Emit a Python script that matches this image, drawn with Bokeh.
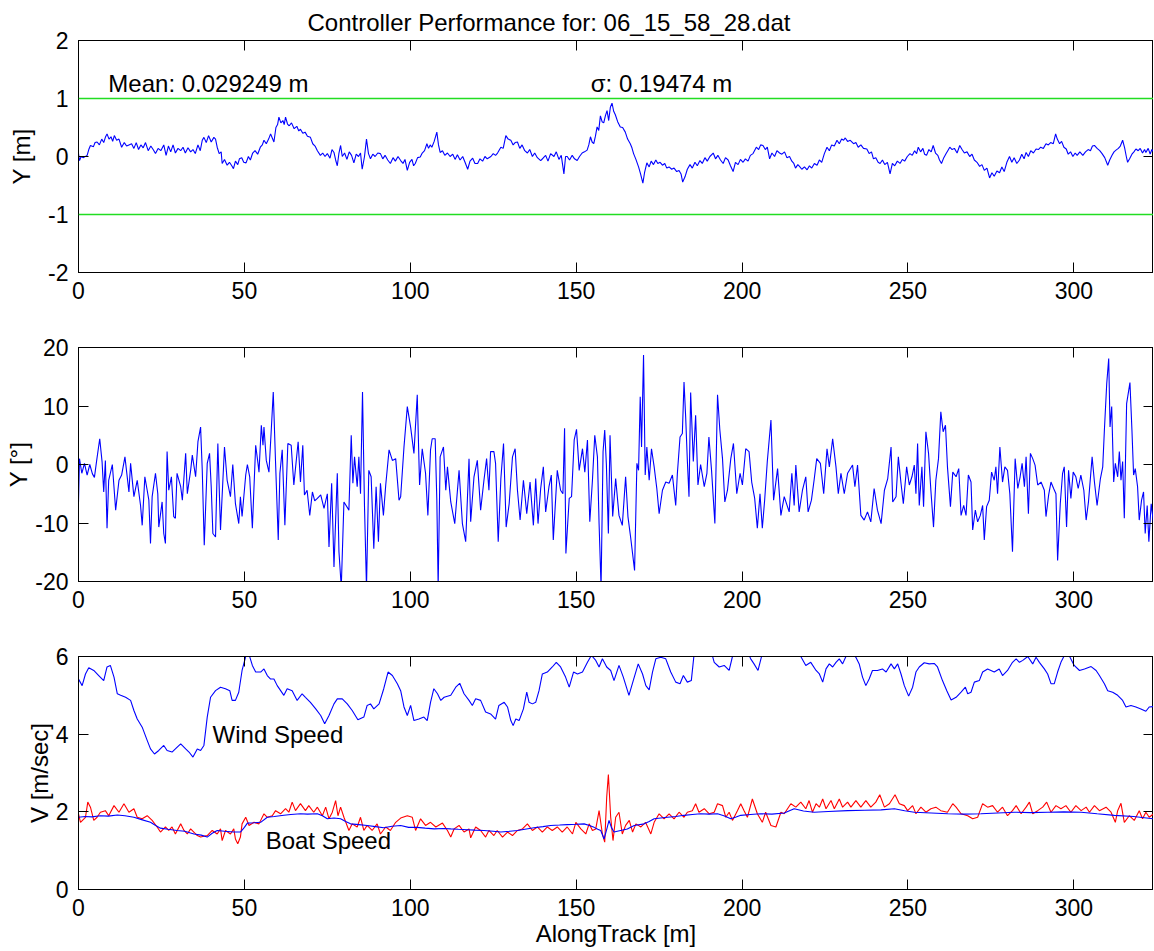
from bokeh.plotting import figure
from bokeh.models import Range1d, LinearAxis, Span, Label, FixedTicker, Title
from bokeh.layouts import column
from bokeh.embed import file_html
from bokeh.resources import INLINE

FONT = "Liberation Sans"

# ---------------- data ----------------
x_ticks = [0, 50, 100, 150, 200, 250, 300]
y1_ticks = [-2, -1, 0, 1, 2]
y2_ticks = [-20, -10, 0, 10, 20]
y3_ticks = [0, 2, 4, 6]
limits = [-1, 1]

title_text = "Controller Performance for: 06_15_58_28.dat"
mean_text = "Mean: 0.029249 m"
sigma_text = "\u03c3: 0.19474 m"

# cross-track error Y [m]
y1_pts = [
    (0, 0.05), (0.3, -0.07), (0.8, 0.0), (1.5, -0.02), (2.6, 0.02), (3.1, 0.12), (3.6, 0.19), (4.5, 0.17),
    (5.0, 0.24), (5.6, 0.25), (6.3, 0.2), (7.0, 0.3), (7.6, 0.24), (8.1, 0.33), (8.6, 0.39), (9.2, 0.3),
    (9.8, 0.34), (10.3, 0.26), (10.8, 0.36), (11.5, 0.28), (12.2, 0.3), (13.0, 0.16), (13.8, 0.24), (14.5, 0.18),
    (15.2, 0.2), (16.0, 0.22), (16.7, 0.14), (17.4, 0.24), (18.1, 0.12), (18.8, 0.2), (19.5, 0.15), (20.2, 0.24),
    (21.0, 0.1), (21.8, 0.18), (22.5, 0.12), (23.2, 0.05), (24.0, 0.14), (24.8, 0.1), (25.7, 0.2), (26.4, 0.02),
    (27.1, 0.18), (27.8, 0.08), (28.5, 0.2), (29.2, 0.06), (30.0, 0.14), (30.8, 0.1), (31.5, 0.16), (32.2, 0.06),
    (33.0, 0.15), (33.8, 0.08), (34.5, 0.12), (35.2, 0.05), (36.0, 0.2), (36.7, 0.1), (37.3, 0.28), (37.8, 0.33),
    (38.5, 0.24), (39.2, 0.36), (40.0, 0.25), (40.8, 0.33), (41.3, 0.3), (41.8, 0.16), (42.4, 0.05), (43.0, 0.08),
    (43.3, -0.12), (44.0, -0.05), (44.8, -0.15), (45.5, -0.1), (46.2, -0.16), (46.7, -0.21), (47.3, -0.08), (48.0, -0.14),
    (48.5, -0.04), (49.2, -0.02), (49.8, -0.1), (50.5, -0.11), (51.2, 0.0), (51.8, -0.06), (52.5, 0.06), (53.2, 0.1),
    (54.0, 0.04), (54.8, 0.16), (55.4, 0.2), (55.9, 0.28), (56.6, 0.22), (57.3, 0.3), (57.9, 0.39), (58.4, 0.32),
    (58.9, 0.25), (59.5, 0.5), (60.0, 0.55), (60.4, 0.68), (61.0, 0.58), (61.6, 0.62), (62.0, 0.55), (62.4, 0.68),
    (63.0, 0.56), (63.5, 0.53), (64.2, 0.58), (65.0, 0.48), (65.8, 0.52), (66.4, 0.44), (66.9, 0.47), (67.6, 0.4),
    (68.3, 0.42), (69.0, 0.35), (69.9, 0.33), (70.6, 0.22), (71.3, 0.18), (72.0, 0.1), (72.9, 0.02), (73.6, 0.06),
    (74.3, 0.0), (75.0, 0.05), (75.8, -0.03), (76.4, 0.12), (77.0, 0.07), (77.5, -0.06), (78.0, -0.16), (78.5, 0.06),
    (79.0, 0.19), (79.5, 0.0), (80.2, 0.06), (80.9, -0.05), (81.6, 0.08), (82.3, 0.02), (83.0, -0.11), (83.7, 0.04),
    (84.4, 0.0), (85.0, 0.06), (85.5, -0.22), (86.2, 0.0), (86.8, 0.3), (87.4, 0.05), (88.0, -0.04), (88.7, 0.04),
    (89.4, 0.0), (90.2, 0.06), (91.0, 0.05), (91.7, -0.04), (92.4, 0.02), (93.2, -0.06), (94.0, -0.12), (94.8, -0.02),
    (95.5, -0.08), (96.3, 0.0), (97.1, -0.07), (97.8, -0.12), (98.4, -0.05), (99.1, -0.24), (99.8, -0.1), (100.5, -0.05),
    (101.0, -0.16), (101.5, -0.12), (102.2, -0.02), (103.0, -0.01), (103.6, 0.06), (104.3, 0.1), (105.0, 0.22), (105.5, 0.14),
    (106.0, 0.2), (106.5, 0.16), (107.2, 0.26), (108.0, 0.42), (108.5, 0.2), (109.0, 0.07), (109.7, 0.1), (110.4, 0.02),
    (111.2, 0.06), (112.0, 0.0), (112.8, 0.04), (113.5, -0.05), (114.2, 0.03), (115.0, -0.06), (115.8, 0.0), (116.5, -0.1),
    (117.3, -0.22), (118.0, -0.08), (118.8, -0.03), (119.5, -0.12), (120.3, -0.12), (121.0, -0.04), (121.8, -0.08), (122.5, 0.0),
    (123.2, -0.04), (124.3, 0.0), (125.0, 0.05), (125.7, 0.02), (126.3, 0.06), (127.3, 0.16), (128.0, 0.14), (128.8, 0.36),
    (129.5, 0.3), (130.3, 0.28), (131.0, 0.2), (131.6, 0.24), (132.3, 0.25), (133.0, 0.14), (133.7, 0.2), (134.5, 0.1),
    (135.3, 0.06), (136.0, 0.12), (136.8, 0.0), (137.5, 0.06), (138.3, -0.02), (139.3, -0.07), (140.0, -0.03), (140.8, 0.02),
    (141.5, -0.08), (142.3, 0.05), (143.3, 0.0), (144.0, 0.08), (144.8, -0.05), (145.5, 0.02), (146.3, -0.3), (146.8, 0.0),
    (147.3, 0.0), (148.0, -0.06), (148.8, 0.02), (149.5, -0.04), (150.3, -0.07), (151.0, 0.0), (151.8, 0.06), (152.5, 0.08),
    (153.3, 0.11), (153.8, 0.2), (154.3, 0.34), (154.8, 0.25), (155.3, 0.22), (155.8, 0.35), (156.3, 0.51), (156.8, 0.45),
    (157.3, 0.7), (157.8, 0.6), (158.3, 0.58), (158.8, 0.7), (159.3, 0.79), (159.8, 0.62), (160.3, 0.85), (160.8, 0.92),
    (161.3, 0.78), (161.8, 0.72), (162.5, 0.6), (163.3, 0.51), (164.0, 0.5), (164.8, 0.42), (165.5, 0.3), (166.3, 0.22),
    (166.8, 0.15), (167.3, 0.05), (168.0, -0.05), (168.8, -0.18), (169.4, -0.3), (170.1, -0.46), (170.6, -0.28), (171.3, -0.11),
    (172.0, -0.18), (172.6, -0.08), (173.3, -0.14), (174.0, -0.06), (174.6, -0.12), (175.3, -0.1), (176.0, -0.15), (176.7, -0.12),
    (177.3, -0.2), (178.0, -0.18), (178.8, -0.22), (179.5, -0.2), (180.3, -0.26), (181.0, -0.24), (181.6, -0.3), (182.1, -0.44),
    (182.8, -0.35), (183.5, -0.22), (184.3, -0.14), (185.0, -0.2), (185.8, -0.1), (186.5, -0.16), (187.3, -0.07), (188.0, -0.12),
    (188.8, -0.02), (189.5, -0.08), (190.3, 0.0), (191.3, 0.06), (192.0, -0.04), (192.7, 0.02), (193.5, -0.06), (194.3, -0.12),
    (195.0, -0.02), (195.8, -0.06), (196.5, -0.16), (197.3, -0.26), (198.0, -0.1), (198.8, -0.14), (199.5, -0.05), (200.3, -0.1),
    (201.0, -0.04), (201.8, -0.08), (202.5, 0.02), (203.3, 0.05), (204.3, 0.16), (205.0, 0.12), (205.6, 0.2), (206.3, 0.19),
    (207.0, 0.12), (207.6, 0.16), (208.3, -0.04), (209.0, 0.06), (209.8, 0.0), (210.5, 0.1), (211.3, 0.06), (212.0, 0.04),
    (212.8, 0.08), (213.5, -0.02), (214.3, 0.0), (215.0, -0.08), (215.6, -0.12), (216.1, -0.2), (216.8, -0.14), (217.3, -0.17),
    (218.0, -0.22), (218.8, -0.18), (219.6, -0.23), (220.3, -0.16), (221.0, -0.2), (221.8, -0.12), (222.6, -0.15), (223.3, -0.06),
    (224.0, -0.1), (224.8, 0.05), (225.6, 0.16), (226.3, 0.1), (227.0, 0.2), (227.8, 0.18), (228.6, 0.28), (229.3, 0.22),
    (230.0, 0.3), (230.6, 0.28), (231.1, 0.32), (231.8, 0.26), (232.6, 0.28), (233.6, 0.22), (234.3, 0.24), (235.0, 0.16),
    (235.8, 0.2), (236.6, 0.14), (237.6, 0.13), (238.3, 0.05), (239.0, 0.08), (239.6, -0.04), (240.3, -0.02), (241.0, -0.1),
    (241.6, -0.12), (242.3, -0.06), (243.0, -0.14), (243.8, -0.1), (244.6, -0.3), (245.3, -0.12), (246.0, -0.16), (246.8, -0.08),
    (247.6, -0.12), (248.3, -0.05), (249.0, -0.08), (249.8, 0.0), (250.6, 0.05), (251.3, 0.02), (252.0, 0.1), (252.6, 0.05),
    (253.1, 0.16), (253.8, 0.08), (254.5, 0.14), (255.0, 0.04), (255.6, 0.02), (256.3, 0.12), (257.0, 0.08), (257.6, 0.19),
    (258.3, 0.06), (259.0, 0.02), (259.5, -0.06), (260.1, -0.12), (260.8, -0.02), (261.5, 0.05), (262.0, 0.1), (262.6, 0.16),
    (263.3, 0.12), (264.0, 0.14), (264.8, 0.06), (265.6, 0.19), (266.3, 0.12), (267.0, 0.06), (267.8, 0.08), (268.6, 0.0),
    (269.3, 0.04), (270.0, -0.06), (270.8, -0.1), (271.6, -0.17), (272.3, -0.14), (273.0, -0.24), (273.8, -0.2), (274.6, -0.37),
    (275.3, -0.28), (276.0, -0.34), (276.8, -0.25), (277.6, -0.28), (278.3, -0.18), (279.0, -0.26), (279.8, -0.1), (280.6, 0.0),
    (281.3, -0.1), (282.0, -0.02), (282.8, -0.12), (283.6, -0.06), (284.3, 0.04), (285.0, -0.04), (285.6, 0.07), (286.3, 0.0),
    (287.0, 0.1), (287.8, 0.06), (288.6, 0.13), (289.3, 0.12), (290.0, 0.16), (290.8, 0.14), (291.6, 0.22), (292.3, 0.2),
    (293.0, 0.24), (293.8, 0.22), (294.5, 0.39), (295.0, 0.3), (295.7, 0.22), (296.3, 0.26), (297.0, 0.16), (297.7, 0.13),
    (298.3, 0.04), (299.0, 0.08), (299.7, 0.0), (300.4, 0.06), (301.0, 0.02), (301.8, 0.08), (302.7, 0.02), (303.5, 0.08),
    (304.3, 0.12), (305.0, 0.1), (305.6, 0.18), (306.2, 0.19), (307.0, 0.14), (307.8, 0.1), (308.5, 0.05), (309.3, -0.02),
    (310.2, -0.15), (310.8, -0.06), (311.5, 0.02), (312.1, 0.08), (312.7, 0.11), (313.4, 0.14), (314.0, 0.18), (314.7, 0.28),
    (315.3, 0.15), (315.8, 0.0), (316.2, -0.1), (316.8, -0.04), (317.5, 0.04), (318.1, 0.08), (318.7, 0.13), (319.4, 0.1),
    (320.0, 0.14), (320.7, 0.06), (321.3, 0.12), (321.7, 0.07), (322.4, 0.14), (323.0, 0.04), (323.5, 0.12), (324.0, 0.08),
]
track_x = [p[0] for p in y1_pts]
cross_track = [p[1] for p in y1_pts]

# heading error Y [deg]
y2_pts = [
    (0.0, -6.5), (0.3, 1.0), (1.0, -1.5), (1.8, 0.2), (2.6, -1.8), (3.4, 0.0), (4.2, -1.6), (4.8, -2.2), (5.5, 0.8),
    (6.4, 4.4), (7.1, 0.5), (7.6, -4.7), (8.1, 0.7), (8.6, -10.9), (9.1, -2.7), (10.2, 0.0), (11.2, -7.8),
    (12.2, -2.7), (13.0, -1.8), (14.0, 1.3), (15.2, -4.7), (15.7, 0.2), (16.7, -5.5), (17.7, -2.7), (18.7, -7.0),
    (19.2, -10.4), (20.0, -2.1), (20.7, -4.4), (21.2, -6.1), (21.7, -13.5), (22.2, -5.5), (23.2, -1.5), (23.9, -5.0),
    (24.2, -10.7), (25.2, -6.4), (25.7, -11.8), (26.2, -13.5), (26.7, 2.2), (27.2, -4.4), (28.0, -2.1), (28.7, -8.9),
    (29.2, -9.2), (29.7, -1.5), (30.8, -3.8), (31.3, -6.1), (32.3, 1.9), (32.8, -5.0), (33.8, -1.0), (34.3, 1.6),
    (35.3, -2.1), (36.0, 3.9), (36.8, 6.4), (37.3, -1.0), (37.9, -13.8), (38.8, 0.2), (39.5, 1.9), (40.0, -3.8),
    (40.5, -11.8), (41.3, -12.4), (42.0, 3.6), (42.8, -11.2), (44.0, 3.0), (44.8, -2.7), (45.8, -5.5), (46.5, 0.0),
    (47.3, -6.7), (48.3, -10.1), (48.8, -5.5), (49.3, -8.9), (50.4, -1.8), (50.9, 0.0), (51.6, -2.1), (52.4, -10.9),
    (53.4, 3.3), (54.1, 0.2), (54.4, -1.3), (55.1, 6.7), (55.6, 3.3), (55.9, 6.4), (56.6, 0.7), (57.4, -1.3),
    (58.1, 5.9), (58.7, 12.4), (59.4, 0.2), (60.2, -12.9), (60.7, -1.5), (61.4, 2.5), (62.2, -10.4), (63.1, 3.6),
    (64.1, 3.3), (64.9, -3.5), (66.2, 3.9), (66.9, -3.0), (67.6, 3.3), (68.1, -5.2), (68.9, -4.4), (69.7, -8.7),
    (70.5, -4.7), (71.2, -6.2), (72.0, -5.8), (73.0, -5.2), (74.0, -7.5), (75.0, -5.0), (75.5, -14.1), (76.3, -3.2),
    (77.0, -17.5), (78.0, -1.5), (78.5, -14.9), (79.2, -21.0), (80.0, -6.4), (81.5, -7.8), (82.2, 5.0), (82.7, -3.2),
    (83.2, 1.3), (84.0, -3.8), (84.5, 1.3), (85.0, -5.0), (85.6, 12.4), (86.2, -7.2), (86.8, -21.0), (87.5, -1.0),
    (88.2, -2.1), (89.0, -14.4), (89.7, -3.8), (90.4, -13.2), (91.0, -3.2), (91.9, -8.7), (92.6, -3.5), (93.6, 2.5),
    (94.6, 0.7), (95.6, 1.0), (96.6, -6.1), (97.1, -5.5), (98.1, 3.0), (99.1, 9.9), (100.1, 6.4), (101.1, 1.9),
    (102.1, 11.9), (102.8, -3.5), (103.6, 2.7), (104.6, -1.5), (105.3, -8.7), (106.1, 2.5), (106.6, 4.4), (107.5, 4.4),
    (108.0, -6.1), (108.4, -21.0), (109.0, 1.3), (110.0, 3.0), (110.7, -4.4), (111.2, -0.4), (112.2, -6.4), (113.4, -10.1),
    (114.7, -1.0), (115.7, -10.1), (116.7, -13.2), (117.7, 1.0), (118.2, -9.8), (119.2, -2.1), (120.2, 0.7), (121.2, -7.8),
    (122.2, -2.7), (123.0, 1.0), (123.7, -4.4), (124.2, 2.2), (125.2, 2.2), (125.7, 0.2), (126.5, -13.2), (127.3, -2.4),
    (128.1, 3.6), (128.9, -10.7), (129.8, -6.7), (130.8, 1.3), (131.6, 2.7), (132.3, -4.4), (133.1, -9.5), (134.1, -2.7),
    (135.1, -8.4), (136.1, -3.0), (137.1, -10.4), (137.8, -2.4), (138.5, -10.1), (139.3, -4.1), (140.1, -0.4), (140.8, -8.1),
    (141.8, -3.8), (142.5, -1.8), (143.1, -12.9), (144.3, -1.0), (145.3, -4.4), (146.0, -5.0), (146.5, 6.2), (146.9, -15.2),
    (147.9, -5.8), (148.6, -5.5), (149.4, 4.2), (150.1, 6.0), (150.9, -1.0), (151.9, 2.7), (152.6, -1.3), (153.4, 4.2),
    (154.1, -9.8), (154.9, -2.7), (155.6, 5.0), (156.4, 1.3), (156.9, -10.1), (157.5, -21.0), (158.1, 2.2), (158.6, 5.9),
    (159.1, 0.0), (159.7, -11.8), (160.2, 5.0), (161.0, -8.9), (161.9, -2.4), (162.9, -8.7), (163.9, -10.4), (164.9, -2.1),
    (165.6, -8.9), (166.4, -12.4), (167.6, -18.1), (168.3, 0.2), (168.8, -1.0), (169.3, 11.6), (169.7, 3.0), (170.3, 18.7),
    (170.8, -1.8), (171.3, 3.0), (172.0, -2.7), (172.7, 2.7), (173.5, -0.4), (174.3, -4.1), (175.0, -8.4), (176.0, -4.4),
    (177.0, -3.0), (178.0, -3.2), (179.0, -1.8), (180.0, -7.0), (180.5, -1.5), (181.3, 4.7), (182.0, 5.3), (182.5, 14.1),
    (183.0, 8.1), (183.5, 0.7), (184.0, -5.5), (184.5, 12.3), (185.3, 0.5), (186.0, 8.4), (186.7, -3.5), (187.5, 0.0),
    (188.6, -3.8), (189.4, -1.5), (190.0, 4.7), (190.8, -1.0), (191.8, -10.1), (192.6, 11.9), (193.3, 5.9), (194.1, 1.0),
    (194.8, -6.4), (195.6, -4.4), (196.6, 1.0), (197.4, 3.6), (198.4, -5.0), (199.4, -1.5), (200.1, -3.5), (201.1, 2.7),
    (202.1, 2.2), (202.9, -3.0), (203.8, -5.8), (204.6, -10.9), (205.4, -5.0), (206.1, -10.9), (206.8, -6.1), (207.6, 0.5),
    (208.7, 7.6), (209.5, -6.1), (210.7, -0.7), (211.7, -8.7), (212.7, -5.5), (214.2, -8.1), (215.0, -1.5), (215.7, -7.0),
    (216.2, -0.1), (217.2, -8.1), (218.2, -4.4), (219.2, -2.1), (219.9, -8.1), (220.9, -6.1), (221.7, -2.7), (222.5, 1.0),
    (223.6, 0.2), (224.6, -5.0), (225.6, 2.7), (226.3, -0.4), (227.3, 4.4), (228.3, -0.4), (229.0, -5.0), (229.8, -1.5),
    (230.8, -5.0), (231.8, -1.5), (233.3, -0.1), (234.0, -3.8), (234.8, -0.1), (235.8, -8.7), (236.8, -9.5), (237.8, -8.1),
    (238.8, -9.8), (239.8, -4.1), (240.8, -7.8), (241.9, -10.1), (242.9, -4.4), (243.9, -2.4), (244.9, 3.0), (245.4, -6.4),
    (246.4, -5.5), (247.1, 1.3), (247.9, -3.2), (248.6, -6.7), (249.6, -0.4), (250.4, -3.5), (251.2, -2.1), (251.9, -0.1),
    (252.4, -5.0), (252.9, 3.6), (253.4, -7.0), (254.2, -0.4), (254.7, -7.2), (255.4, 5.6), (256.2, 1.9), (256.9, -4.4),
    (257.7, -10.7), (258.4, -2.7), (259.2, 1.0), (259.9, 9.0), (260.6, 5.6), (261.3, 6.7), (261.9, -0.4), (262.8, -7.2),
    (263.5, -1.3), (264.5, -2.1), (265.3, -0.7), (266.0, -8.7), (266.8, -7.0), (267.5, -8.7), (268.2, -1.8), (269.0, -3.0),
    (269.5, -11.2), (270.3, -7.8), (271.0, -9.8), (271.8, -8.7), (272.5, -7.0), (273.0, -12.9), (273.7, -7.2), (274.5, -6.1),
    (275.2, -1.3), (276.0, -2.7), (276.5, -0.4), (277.0, -5.0), (277.7, 3.0), (278.5, -3.0), (279.2, -0.4), (280.0, -1.0),
    (280.7, -5.0), (281.5, -14.9), (282.3, 1.0), (283.1, -4.1), (283.8, -2.1), (284.4, 0.2), (285.1, -3.8), (285.6, 1.3),
    (286.3, -8.4), (286.9, 1.9), (287.6, 1.0), (288.3, -0.1), (289.1, -3.5), (290.1, -3.0), (291.1, -4.4), (291.6, -8.9),
    (292.4, -5.2), (293.1, -3.0), (293.9, -4.1), (294.6, -5.0), (295.1, -16.4), (295.9, -6.7), (296.6, -1.5), (297.1, -0.4),
    (297.8, -10.7), (298.4, -1.0), (299.1, -5.8), (299.8, -1.3), (300.6, -2.1), (301.3, -4.1), (302.1, -1.8), (303.0, -4.4),
    (303.7, -9.5), (304.4, -6.4), (305.5, 1.3), (306.2, -3.0), (307.0, -7.0), (308.0, -2.4), (308.7, -0.4), (309.2, 5.9),
    (309.9, 13.8), (310.5, 18.1), (310.9, 6.4), (311.4, 9.9), (312.0, -3.0), (312.5, 0.2), (313.2, -2.1), (313.7, 2.2),
    (314.2, -2.7), (314.7, 0.5), (315.2, -9.2), (315.9, 10.4), (316.9, 14.0), (317.5, 5.9), (318.0, -1.8), (318.5, -0.7),
    (319.2, -3.8), (319.7, -9.5), (320.4, -6.1), (321.0, -4.7), (321.5, -11.8), (322.1, -7.0), (322.6, -13.2), (323.3, -6.7),
    (324.0, -10.0),
]
heading_x = [p[0] for p in y2_pts]
heading = [p[1] for p in y2_pts]

# wind speed [m/s]
wind_pts = [
    (0, 5.42), (1.1, 5.25), (2.1, 5.55), (3.1, 5.71), (4.6, 5.64), (6.1, 5.51), (7.6, 5.38), (8.6, 5.73), (9.6, 5.77),
    (10.7, 5.47), (11.7, 5.04), (12.7, 5.0), (14.2, 4.95), (15.7, 4.87), (16.7, 4.61), (17.7, 4.39), (19.2, 4.18),
    (20.7, 3.84), (21.7, 3.62), (22.9, 3.49), (24.2, 3.58), (25.7, 3.71), (26.7, 3.58), (28.2, 3.54), (29.2, 3.62),
    (30.8, 3.75), (32.3, 3.62), (33.3, 3.54), (34.5, 3.41), (35.8, 3.62), (36.8, 3.58), (37.8, 3.71), (38.8, 4.44),
    (39.8, 4.95), (41.3, 5.12), (42.8, 5.21), (44.3, 5.17), (45.6, 5.12), (46.3, 4.87), (47.3, 4.87), (48.3, 5.08),
    (49.3, 5.64), (50.4, 6.0), (51.4, 6.05), (52.4, 5.77), (53.4, 5.6), (54.9, 5.6), (55.9, 5.68), (56.9, 5.51),
    (57.9, 5.42), (58.9, 5.42), (59.9, 5.25), (61.9, 5.0), (62.9, 5.17), (64.4, 5.12), (65.9, 4.87), (67.4, 5.04),
    (68.4, 4.95), (69.9, 4.82), (71.5, 4.65), (73.0, 4.48), (74.2, 4.27), (75.5, 4.48), (77.0, 4.78), (78.0, 4.91),
    (79.5, 4.91), (81.0, 4.78), (82.5, 4.61), (84.2, 4.37), (86.0, 4.44), (87.0, 4.74), (88.0, 4.78), (89.0, 4.65),
    (90.6, 4.78), (92.0, 5.17), (93.3, 5.6), (94.6, 5.51), (96.1, 5.3), (97.1, 5.12), (98.1, 4.7), (99.1, 4.48),
    (100.1, 4.74), (101.1, 4.35), (102.6, 4.39), (104.1, 4.44), (105.1, 4.35), (106.1, 4.82), (107.1, 5.17), (108.2, 5.04),
    (109.2, 4.87), (110.2, 4.95), (112.2, 5.0), (113.7, 5.21), (114.9, 5.31), (116.2, 5.04), (117.7, 4.87), (118.7, 4.74),
    (119.7, 4.91), (121.2, 4.87), (122.7, 4.57), (124.2, 4.52), (125.7, 4.39), (126.7, 4.74), (128.3, 4.82), (129.3, 4.7),
    (130.3, 4.35), (131.0, 4.22), (131.8, 4.39), (132.8, 4.35), (134.1, 4.65), (135.1, 5.08), (135.8, 4.82), (136.8, 4.78),
    (137.8, 4.82), (138.8, 5.12), (139.8, 5.55), (141.3, 5.6), (142.8, 5.73), (144.0, 5.85), (145.3, 5.73), (146.8, 5.47),
    (147.9, 5.21), (149.2, 5.6), (150.4, 5.55), (151.9, 5.6), (153.4, 5.85), (154.6, 6.03), (155.9, 5.9), (156.9, 5.73),
    (157.9, 5.94), (159.2, 5.73), (160.4, 5.64), (161.4, 5.38), (162.9, 5.77), (164.2, 5.47), (165.9, 5.0), (167.2, 5.38),
    (168.7, 5.81), (170.0, 5.55), (171.0, 5.25), (172.0, 5.14), (173.0, 5.6), (174.0, 5.94), (175.5, 5.98), (177.0, 5.94),
    (178.5, 5.6), (180.0, 5.34), (181.3, 5.3), (182.3, 5.51), (183.5, 5.34), (184.7, 5.38), (185.5, 6.03), (186.5, 6.3),
    (188.0, 6.4), (189.5, 6.3), (190.8, 6.1), (191.6, 5.85), (193.1, 5.73), (194.6, 5.77), (196.1, 5.64), (197.1, 6.0),
    (198.5, 6.25), (200.0, 6.3), (201.5, 6.15), (202.6, 5.94), (203.6, 5.81), (204.8, 5.64), (205.8, 5.98), (207.0, 6.3),
    (209.0, 6.45), (211.0, 6.4), (213.0, 6.5), (215.0, 6.3), (216.5, 6.15), (217.7, 6.0), (219.2, 5.77), (220.7, 5.85),
    (222.3, 5.64), (223.3, 5.55), (224.3, 5.34), (225.3, 5.68), (226.3, 5.81), (227.3, 5.73), (228.3, 5.85), (229.3, 5.94),
    (230.3, 5.81), (231.3, 6.0), (232.5, 6.1), (233.5, 6.05), (234.3, 5.98), (235.3, 5.81), (236.3, 5.47), (237.3, 5.25),
    (238.3, 5.42), (239.3, 5.64), (240.8, 5.64), (242.3, 5.68), (243.4, 5.6), (244.9, 5.81), (245.9, 5.68), (246.9, 5.81),
    (247.9, 5.55), (248.9, 5.25), (250.2, 4.98), (251.4, 5.21), (252.4, 5.6), (253.4, 5.73), (254.9, 5.84), (256.4, 5.81),
    (257.9, 5.82), (258.9, 5.73), (260.4, 5.38), (261.7, 5.12), (263.0, 4.88), (264.5, 4.95), (266.0, 5.08), (267.3, 5.21),
    (268.0, 5.04), (269.0, 5.08), (270.0, 5.34), (271.5, 5.38), (272.5, 5.6), (274.0, 5.68), (276.0, 5.6), (277.5, 5.68),
    (278.5, 5.51), (280.0, 5.64), (281.5, 5.85), (282.6, 5.94), (283.6, 5.85), (284.6, 5.9), (286.1, 6.0), (287.6, 5.81),
    (288.6, 5.98), (289.6, 5.85), (291.1, 5.68), (292.1, 5.55), (293.1, 5.3), (294.1, 5.3), (295.1, 5.6), (296.1, 5.85),
    (297.1, 6.02), (298.6, 6.02), (300.1, 5.77), (301.7, 5.64), (303.2, 5.68), (305.2, 5.74), (306.7, 5.64), (307.7, 5.51),
    (309.2, 5.3), (310.2, 5.12), (311.7, 5.08), (313.2, 5.0), (314.7, 4.87), (315.7, 4.7), (317.2, 4.74), (318.7, 4.7),
    (320.2, 4.65), (321.7, 4.59), (322.7, 4.7), (324.0, 4.71),
]
wind_x = [p[0] for p in wind_pts]
wind_speed = [p[1] for p in wind_pts]

# boat speed, smooth (blue) [m/s]
boat_pts = [
    (0, 1.86), (2, 1.88), (4, 1.87), (6.6, 1.9), (9, 1.89), (11.7, 1.92), (14, 1.9), (16.7, 1.86), (19, 1.8),
    (21.7, 1.73), (23, 1.66), (24.7, 1.58), (27, 1.55), (29.7, 1.52), (32, 1.5), (34.8, 1.43), (37, 1.4), (38.8, 1.35),
    (40.3, 1.45), (41.8, 1.52), (44, 1.5), (46.8, 1.48), (48.8, 1.48), (50.0, 1.6), (50.9, 1.71), (53, 1.72),
    (54.9, 1.73), (56.9, 1.86), (59, 1.88), (61.9, 1.91), (64, 1.93), (66.9, 1.95), (69, 1.94), (72, 1.95),
    (73.5, 1.9), (75, 1.82), (77, 1.84), (79, 1.82), (80.5, 1.75), (82, 1.69), (84.5, 1.67), (87, 1.65), (89.5, 1.62),
    (92, 1.59), (94.5, 1.63), (97.1, 1.65), (99.5, 1.6), (102, 1.6), (104.5, 1.58), (107.2, 1.56), (110, 1.57),
    (112.2, 1.56), (114.5, 1.55), (117.2, 1.54), (119.5, 1.53), (122.2, 1.52), (125, 1.5), (127.3, 1.48), (130, 1.5),
    (132.3, 1.52), (135, 1.56), (137.3, 1.59), (140, 1.62), (142.3, 1.65), (145, 1.66), (147.3, 1.67), (150, 1.68),
    (152.4, 1.69), (154, 1.65), (155.4, 1.6), (156.5, 1.55), (157.4, 1.52), (158.4, 1.3), (159.2, 1.55), (159.9, 1.78),
    (160.6, 1.6), (161.4, 1.48), (163.4, 1.52), (165.4, 1.56), (167.5, 1.65), (170.5, 1.69), (172, 1.75), (173.5, 1.82),
    (175.5, 1.84), (177.5, 1.86), (180, 1.88), (182.5, 1.91), (185, 1.93), (187.5, 1.95), (190, 1.94), (192.6, 1.95),
    (194.5, 1.9), (196.6, 1.82), (198, 1.86), (199.6, 1.91), (202.5, 1.93), (205.6, 1.95), (209, 1.94), (212.7, 1.97),
    (215.7, 2.08), (218.5, 2.02), (221.7, 1.99), (226, 2.01), (231.8, 2.03), (237, 2.04), (241.9, 2.05), (245.9, 2.08),
    (249, 2.03), (251.9, 1.99), (257, 1.97), (262, 1.95), (267, 1.94), (272, 1.95), (277, 1.97), (282.1, 1.99),
    (287, 1.98), (292.1, 1.99), (297, 2.0), (302.2, 1.99), (307, 1.95), (312.2, 1.91), (318, 1.88), (324, 1.82),
]
boat_x = [p[0] for p in boat_pts]
boat_speed = [p[1] for p in boat_pts]

# boat speed, raw (red) [m/s]
gps_pts = [
    (0, 1.95), (0.6, 1.73), (2.1, 1.86), (2.8, 2.25), (3.6, 2.12), (4.6, 1.78), (5.6, 1.86), (6.6, 1.99), (8.1, 2.03),
    (9.1, 1.9), (10.7, 2.16), (12.2, 1.99), (13.7, 2.21), (15.2, 1.99), (16.7, 2.08), (17.7, 1.86), (19.2, 1.82),
    (20.7, 1.9), (22.2, 1.78), (23.7, 1.61), (24.7, 1.48), (26.2, 1.61), (27.2, 1.52), (28.2, 1.61), (29.2, 1.43),
    (30.8, 1.69), (31.8, 1.52), (32.8, 1.43), (33.8, 1.56), (35.8, 1.39), (36.8, 1.35), (38.8, 1.39), (40.3, 1.52),
    (41.8, 1.43), (42.8, 1.56), (43.3, 1.26), (44.3, 1.52), (45.8, 1.43), (46.8, 1.56), (47.3, 1.3), (48.0, 1.18),
    (48.8, 1.35), (49.3, 1.69), (50.4, 1.86), (51.4, 1.65), (52.9, 1.73), (54.4, 1.69), (55.9, 1.95), (56.9, 1.86),
    (58.4, 1.9), (59.4, 2.03), (60.9, 1.95), (62.4, 2.08), (63.4, 1.99), (64.4, 2.25), (65.4, 2.03), (66.9, 2.21),
    (68.4, 2.03), (69.4, 2.16), (70.9, 1.99), (72.0, 2.12), (73.5, 1.9), (74.5, 2.12), (75.5, 1.82), (76.5, 1.99),
    (77.5, 2.29), (78.2, 1.9), (79.0, 2.12), (80.0, 1.86), (81.5, 1.52), (82.5, 1.69), (84.0, 1.61), (85.0, 1.86),
    (86.0, 1.52), (87.0, 1.65), (88.5, 1.52), (90.0, 1.69), (91.0, 1.43), (92.6, 1.61), (94.0, 1.52), (95.6, 1.73),
    (97.1, 1.84), (99.1, 1.9), (100.6, 1.86), (101.6, 1.52), (103.1, 1.82), (104.6, 1.65), (106.1, 1.73), (107.7, 1.61),
    (109.7, 1.71), (111.2, 1.52), (112.2, 1.35), (113.2, 1.56), (114.7, 1.65), (116.2, 1.48), (117.7, 1.56), (118.2, 1.33),
    (119.7, 1.61), (121.2, 1.52), (122.7, 1.35), (123.7, 1.52), (125.2, 1.39), (126.2, 1.52), (127.8, 1.35), (129.3, 1.48),
    (130.8, 1.39), (132.3, 1.52), (133.8, 1.56), (135.3, 1.69), (136.8, 1.52), (138.3, 1.61), (139.8, 1.48), (141.3, 1.61),
    (142.8, 1.52), (144.3, 1.61), (145.8, 1.48), (147.3, 1.61), (148.9, 1.43), (149.9, 1.73), (151.4, 1.56), (152.9, 1.43),
    (153.9, 1.69), (154.9, 1.52), (155.9, 1.56), (156.9, 2.03), (157.9, 1.43), (158.6, 1.22), (159.2, 2.38), (159.7, 2.96),
    (160.4, 1.86), (161.1, 1.26), (161.9, 1.86), (162.9, 1.99), (163.9, 1.43), (164.9, 1.65), (166.0, 1.78), (167.0, 1.48),
    (168.0, 1.69), (169.5, 1.61), (170.9, 1.73), (172.5, 1.43), (173.5, 1.73), (175.0, 1.95), (176.5, 1.82), (178.0, 1.95),
    (179.5, 1.82), (181.0, 1.99), (182.5, 1.86), (183.5, 1.99), (185.0, 2.03), (186.0, 2.21), (187.0, 1.99), (188.6, 2.08),
    (190.1, 1.95), (191.6, 1.99), (192.6, 2.21), (194.1, 2.16), (195.1, 1.86), (196.1, 1.99), (197.1, 1.78), (198.6, 2.03),
    (199.6, 2.21), (200.6, 2.03), (201.6, 1.86), (203.1, 2.33), (204.6, 1.95), (206.1, 1.73), (207.1, 1.99), (208.7, 1.65),
    (210.2, 1.61), (211.7, 1.99), (212.7, 1.95), (214.7, 2.21), (216.2, 2.12), (217.7, 2.25), (219.2, 2.08), (220.2, 2.29),
    (221.2, 1.99), (222.3, 2.21), (223.3, 2.12), (224.3, 2.33), (225.3, 2.08), (226.8, 2.29), (227.8, 2.08), (229.3, 2.33),
    (230.3, 2.12), (231.8, 2.25), (232.8, 2.12), (234.3, 2.29), (235.8, 2.12), (237.3, 2.29), (238.8, 2.12), (240.3, 2.25),
    (241.5, 2.44), (242.9, 2.12), (244.4, 2.21), (246.1, 2.44), (247.4, 2.21), (248.9, 2.16), (249.9, 2.03), (251.4, 2.16),
    (252.4, 1.95), (253.9, 2.12), (255.4, 1.99), (256.9, 2.08), (258.4, 2.12), (259.9, 2.03), (261.9, 1.99), (263.5, 2.21),
    (264.5, 2.12), (266.0, 1.95), (268.0, 1.9), (269.5, 1.82), (271.0, 1.86), (272.5, 2.21), (274.0, 2.12), (275.5, 2.16),
    (277.0, 1.99), (278.5, 2.12), (280.0, 1.9), (281.5, 2.03), (282.6, 2.16), (284.1, 1.95), (285.6, 2.12), (286.6, 2.25),
    (287.6, 1.95), (289.1, 2.03), (290.6, 2.12), (291.8, 2.25), (293.1, 1.99), (294.6, 2.16), (296.1, 2.08), (297.6, 2.16),
    (299.1, 1.99), (300.6, 2.16), (302.2, 2.03), (303.7, 2.12), (304.7, 1.99), (306.2, 2.16), (307.7, 2.03), (309.7, 2.12),
    (311.2, 1.99), (312.5, 1.73), (313.2, 2.03), (314.2, 2.22), (315.2, 1.73), (316.7, 1.9), (318.2, 1.78), (319.7, 2.03),
    (320.7, 1.82), (321.7, 1.99), (322.7, 1.86), (324.0, 1.95),
]
gps_x = [p[0] for p in gps_pts]
gps_speed = [p[1] for p in gps_pts]

# ---------------- figure helpers ----------------
FRAME_W = 1075


def tick_text(ticks):
    # plain hyphen-minus like the original, not a typographic minus
    return {t: ("-%d" % abs(t) if t < 0 else "%d" % t) for t in ticks}


def make_fig(y_lo, y_hi, yticks, ylabel, frame_h, top, bottom, xlabel=None, ylabel_standoff=0):
    p = figure(frame_width=FRAME_W, frame_height=frame_h,
               x_range=Range1d(0, 324), y_range=Range1d(y_lo, y_hi),
               output_backend="svg", toolbar_location=None,
               min_border_left=78, min_border_right=0,
               min_border_top=top, min_border_bottom=bottom,
               background_fill_color="white", border_fill_color="white")
    p.grid.visible = False
    p.outline_line_color = "black"
    p.outline_line_width = 1
    p.outline_line_alpha = 1.0
    for ax, ticks in ((p.xaxis[0], x_ticks), (p.yaxis[0], yticks)):
        ax.ticker = FixedTicker(ticks=ticks)
        ax.major_label_overrides = tick_text(ticks)
        ax.major_tick_in = 10
        ax.major_tick_out = 0
        ax.minor_tick_line_color = None
        ax.axis_line_color = "black"
        ax.major_tick_line_color = "black"
        ax.major_label_text_font = FONT
        ax.major_label_text_font_size = "23px"
        ax.major_label_text_color = "black"
        ax.axis_label_text_font = FONT
        ax.axis_label_text_font_size = "24px"
        ax.axis_label_text_font_style = "normal"
        ax.axis_label_text_color = "black"
    p.xaxis.major_label_standoff = 9
    p.yaxis.major_label_standoff = 10
    p.yaxis.axis_label = ylabel
    p.yaxis.axis_label_standoff = ylabel_standoff
    if xlabel:
        p.xaxis.axis_label = xlabel
        p.xaxis.axis_label_standoff = 1
    # box ticks on top and right (no labels)
    for side, ticks in (("above", x_ticks), ("right", yticks)):
        ax = LinearAxis(ticker=FixedTicker(ticks=ticks),
                        major_label_overrides={t: "" for t in ticks},
                        major_label_text_font_size="1px", major_label_standoff=0,
                        major_tick_in=10, major_tick_out=0,
                        minor_tick_line_color=None, axis_line_color="black")
        if side == "right":
            p.extra_y_ranges = {"box": Range1d(y_lo, y_hi)}
            ax.y_range_name = "box"
        p.add_layout(ax, side)
    return p


# ---------- top: cross-track error ----------
p1 = make_fig(-2, 2, y1_ticks, "Y [m]", 232, 40, 38, ylabel_standoff=10)
p1.title = Title(text=title_text, align="left", offset=229, text_font=FONT,
                 text_font_size="24px", text_font_style="normal", text_color="black",
                 standoff=10)
for lim in limits:
    p1.add_layout(Span(location=lim, dimension="width", line_color="#22dd22", line_width=1.3))
p1.line(track_x, cross_track, line_color="#0000ff", line_width=1.1)
p1.add_layout(Label(x=9.0, y=1.26, text=mean_text, text_baseline="middle", text_align="left",
                    text_font=FONT, text_font_size="24px", text_color="black"))
p1.add_layout(Label(x=154.4, y=1.26, text=sigma_text, text_baseline="middle", text_align="left",
                    text_font=FONT, text_font_size="24px", text_color="black"))

# ---------- middle: heading error ----------
p2 = make_fig(-20, 20, y2_ticks, "Y [\u00b0]", 234, 37, 38)
p2.line(heading_x, heading, line_color="#0000ff", line_width=1.1)

# ---------- bottom: speeds ----------
p3 = make_fig(0, 6, y3_ticks, "V [m/sec]", 233, 37, 58, xlabel="AlongTrack [m]")
p3.line(wind_x, wind_speed, line_color="#0000ff", line_width=1.1)
p3.line(gps_x, gps_speed, line_color="#ff0000", line_width=1.1)
p3.line(boat_x, boat_speed, line_color="#0000ff", line_width=1.1)
p3.add_layout(Label(x=40.4, y=4.0, text="Wind Speed", text_baseline="middle", text_align="left",
                    text_font=FONT, text_font_size="24px", text_color="black"))
p3.add_layout(Label(x=56.4, y=1.26, text="Boat Speed", text_baseline="middle", text_align="left",
                    text_font=FONT, text_font_size="24px", text_color="black"))

layout = column(p1, p2, p3, spacing=0)
open("out.html", "w").write(file_html(layout, INLINE))
